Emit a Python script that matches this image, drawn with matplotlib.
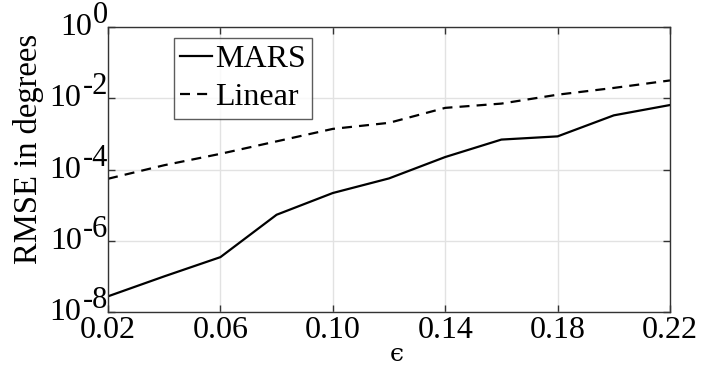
import numpy as np
import matplotlib
matplotlib.use("Agg")
import matplotlib.pyplot as plt
from matplotlib.ticker import FixedLocator, FuncFormatter, NullFormatter

plt.rcParams['font.family'] = ['Liberation Serif', 'DejaVu Serif']

# data (log10 of RMSE)
eps = [0.02, 0.04, 0.06, 0.08, 0.10, 0.12, 0.14, 0.16, 0.18, 0.20, 0.22]
mars_log = [-7.56, -7.0, -6.46, -5.27, -4.66, -4.25, -3.65, -3.16, -3.07, -2.48, -2.19]
linear_log = [-4.26, -3.88, -3.56, -3.21, -2.86, -2.69, -2.27, -2.15, -1.90, -1.71, -1.50]
mars = [10 ** v for v in mars_log]
linear = [10 ** v for v in linear_log]

xticks = [0.02, 0.06, 0.10, 0.14, 0.18, 0.22]
yexp = [-8, -6, -4, -2, 0]

fig = plt.figure(figsize=(7.16, 3.66), dpi=100)
ax = fig.add_axes([108 / 716, 54 / 366, 562 / 716, 285 / 366])

ax.plot(eps, mars, color='black', lw=1.6, label='MARS')
ax.plot(eps, linear, color='black', lw=1.6, ls=(0, (4.5, 3.2)), label='Linear')

ax.set_yscale('log')
ax.set_xlim(0.02, 0.22)
ax.set_ylim(1e-8, 1e0)
ax.xaxis.set_major_locator(FixedLocator(xticks))
ax.xaxis.set_major_formatter(FuncFormatter(lambda v, p: f"{v:.2f}"))
ax.yaxis.set_major_locator(FixedLocator([10.0 ** e for e in yexp]))
ax.yaxis.set_minor_locator(FixedLocator([]))
ax.yaxis.set_major_formatter(NullFormatter())

ax.tick_params(which='both', direction='in', top=True, right=True,
               labelsize=23, length=5, width=1, color='#333333', pad=3)
ax.grid(True, color='#e2e2e2', lw=1)
for s in ax.spines.values():
    s.set_color('#333333')
    s.set_linewidth(1)

# MATLAB-style y labels: big exponent just above the tick, "10" to its left
ytr = ax.get_yaxis_transform()
for e in yexp:
    ex = ax.annotate(str(e), xy=(0, 10.0 ** e), xycoords=ytr,
                     xytext=(0, 4), textcoords='offset pixels',
                     ha='right', va='baseline', fontsize=22,
                     annotation_clip=False)
    ax.annotate('10', xy=(0, 0), xycoords=ex, xytext=(-1, -5),
                textcoords='offset pixels', ha='right', va='baseline',
                fontsize=23, annotation_clip=False)

ax.set_xlabel('\u03f5', fontsize=18, family=['DejaVu Serif'])
ax.xaxis.set_label_coords(0.514, -0.11)
ax.set_ylabel('RMSE in degrees', fontsize=23.5)
ax.yaxis.set_label_coords(-0.114, 0.572)

leg = ax.legend(loc='upper left', bbox_to_anchor=(0.117, 0.96), fontsize=23,
                frameon=True, fancybox=False, edgecolor='#333333',
                handlelength=1.0, handletextpad=0.08, borderpad=0.2,
                labelspacing=0.28, borderaxespad=0)
leg.get_frame().set_linewidth(1)

fig.savefig('out.png', dpi=100)
